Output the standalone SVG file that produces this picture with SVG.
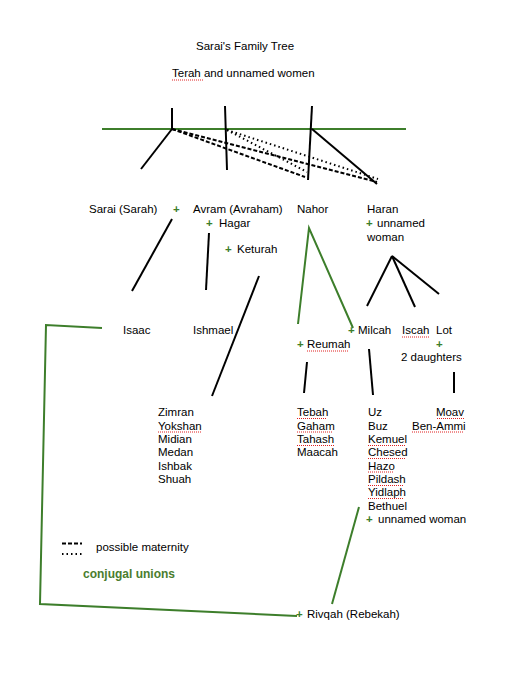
<svg xmlns="http://www.w3.org/2000/svg" width="511" height="680" viewBox="0 0 511 680">
<style>
text{font-family:"Liberation Sans",Arial,sans-serif;font-size:11.5px;fill:#000}
.p{fill:#3d7e2b;font-weight:bold}
.cu{fill:#4a7d2e;font-weight:bold;font-size:12px}
.k{stroke:#000;stroke-width:2;fill:none}
.g{stroke:#3d7e2b;stroke-width:2;fill:none}
.d{stroke:#000;stroke-width:2;stroke-dasharray:4 2;fill:none}
.o{stroke:#000;stroke-width:2;stroke-dasharray:1.5 3;fill:none}
.sp{stroke:#e02020;stroke-width:1;stroke-dasharray:1 1;fill:none}
</style>
<rect width="511" height="680" fill="#fff"/>
<g id="connectors">
<line class="g" x1="102" y1="129" x2="406" y2="129"/>
<line class="k" x1="172" y1="108" x2="172" y2="129"/>
<line class="k" x1="172" y1="129" x2="141" y2="169"/>
<line class="k" x1="225" y1="106" x2="227" y2="170"/>
<line class="k" x1="312" y1="106" x2="308" y2="180"/>
<line class="k" x1="312" y1="129" x2="377" y2="184"/>
<line class="d" x1="172" y1="129" x2="305" y2="177"/>
<line class="d" x1="172" y1="129" x2="377" y2="182"/>
<line class="o" x1="227" y1="130" x2="307" y2="172"/>
<line class="o" x1="227" y1="130" x2="378" y2="179"/>
<line class="k" x1="172" y1="219" x2="132" y2="291"/>
<line class="k" x1="209" y1="233" x2="206" y2="290"/>
<line class="k" x1="259" y1="276" x2="212" y2="396"/>
<polyline class="g" points="298,324 309,228 353,328"/>
<line class="k" x1="392" y1="256" x2="367" y2="306"/>
<line class="k" x1="392" y1="256" x2="415" y2="307"/>
<line class="k" x1="392" y1="256" x2="439" y2="294"/>
<polyline class="g" points="102,328 46,325 40,604 297,616"/>
<line class="g" x1="359" y1="507" x2="332" y2="604"/>
<line class="k" x1="307" y1="362" x2="304" y2="393"/>
<line class="k" x1="369" y1="349" x2="373" y2="395"/>
<line class="k" x1="454" y1="372" x2="454" y2="393"/>
</g>
<g id="title"><text x="196" y="50">Sarai's Family Tree</text></g>
<g id="terah"><text x="172" y="77">Terah and unnamed women</text><line class="sp" x1="172" y1="80" x2="203" y2="80"/></g>
<g id="sarai"><text x="89" y="213">Sarai (Sarah)</text><text class="p" x="173" y="213">+</text></g>
<g id="avram"><text x="193" y="213">Avram (Avraham)</text></g>
<g id="hagar"><text class="p" x="206" y="227">+</text><text x="219" y="227">Hagar</text></g>
<g id="keturah"><text class="p" x="225" y="253">+</text><text x="237" y="253">Keturah</text></g>
<g id="nahor"><text x="297" y="213">Nahor</text></g>
<g id="haran"><text x="367" y="213">Haran</text><text class="p" x="366" y="227">+</text><text x="377" y="227">unnamed</text><text x="367" y="241">woman</text></g>
<g id="isaac"><text x="123" y="334">Isaac</text></g>
<g id="ishmael"><text x="193" y="334">Ishmael</text></g>
<g id="milcah"><text class="p" x="348" y="334">+</text><text x="358" y="334">Milcah</text></g>
<g id="reumah"><text class="p" x="297" y="348">+</text><text x="307" y="348">Reumah</text><line class="sp" x1="307" y1="351" x2="348" y2="351"/></g>
<g id="iscah"><text x="402" y="334">Iscah</text><line class="sp" x1="402" y1="337" x2="429" y2="337"/></g>
<g id="lot"><text x="436" y="334">Lot</text><text class="p" x="436" y="348">+</text><text x="401" y="361">2 daughters</text></g>
<g id="keturah-sons"><text x="158" y="416">Zimran</text><text x="158" y="429.5">Yokshan</text><line class="sp" x1="158" y1="432" x2="202" y2="432"/><text x="158" y="443">Midian</text><text x="158" y="456">Medan</text><text x="158" y="469.5">Ishbak</text><text x="158" y="483">Shuah</text></g>
<g id="reumah-sons"><text x="297" y="416">Tebah</text><line class="sp" x1="297" y1="418.5" x2="327" y2="418.5"/><text x="297" y="429.5">Gaham</text><line class="sp" x1="297" y1="432" x2="332" y2="432"/><text x="297" y="443">Tahash</text><line class="sp" x1="297" y1="445.5" x2="334" y2="445.5"/><text x="297" y="456">Maacah</text></g>
<g id="milcah-sons"><text x="368" y="416">Uz</text><text x="368" y="429.5">Buz</text><text x="368" y="443">Kemuel</text><line class="sp" x1="368" y1="445.5" x2="405" y2="445.5"/><text x="368" y="456">Chesed</text><line class="sp" x1="368" y1="458.5" x2="406" y2="458.5"/><text x="368" y="469.5">Hazo</text><line class="sp" x1="368" y1="472" x2="393" y2="472"/><text x="368" y="483">Pildash</text><line class="sp" x1="368" y1="485.5" x2="404" y2="485.5"/><text x="368" y="496">Yidlaph</text><line class="sp" x1="368" y1="498.5" x2="404" y2="498.5"/><text x="368" y="509.5">Bethuel</text><text class="p" x="366" y="523">+</text><text x="378" y="523">unnamed woman</text></g>
<g id="lot-sons"><text x="464" y="416" text-anchor="end">Moav</text><line class="sp" x1="437" y1="418.5" x2="464" y2="418.5"/><text x="412" y="429.5">Ben-Ammi</text><line class="sp" x1="412" y1="432" x2="464" y2="432"/></g>
<g id="rivqah"><text class="p" x="296" y="618">+</text><text x="307" y="618">Rivqah (Rebekah)</text></g>
<g id="legend"><line class="d" x1="62" y1="543.5" x2="82" y2="543.5"/><line class="o" x1="62" y1="554" x2="82" y2="554"/><text x="96" y="551">possible maternity</text><text class="cu" x="83" y="578">conjugal unions</text></g>
</svg>
